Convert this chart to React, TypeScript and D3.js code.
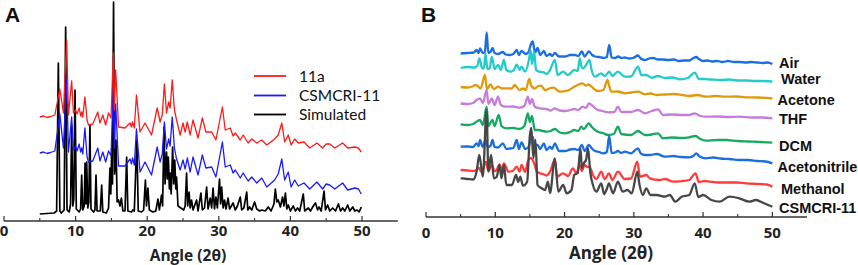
import React from 'react';
import * as d3 from 'd3';

type Pt = [number, number];

const MAJOR_TICKS = [0, 10, 20, 30, 40, 50];
const MINOR_TICKS = [5, 15, 25, 35, 45];
const X_TITLE = 'Angle (2θ)';

// Panel A (stacked intensities, arbitrary units)
const A_SIMULATED: Pt[] = [[5,0],[6,0.5],[7,1],[7.35,3],[7.59,151],[7.8,3],[8.0,1],[8.4,4],[8.61,187],[8.8,4],[9.1,2],[9.3,10],[9.45,89],[9.62,8],[9.75,15],[9.92,124],[10.1,5],[10.5,2],[10.7,5],[10.85,39],[11.0,4],[11.2,8],[11.32,51],[11.45,10],[11.55,52],[11.7,6],[11.85,12],[12.0,89],[12.15,5],[12.5,2],[12.7,4],[12.85,39],[13.0,3],[13.45,3],[13.64,29],[13.8,2],[14.3,1],[14.6,6],[14.8,46],[14.92,20],[15.04,66],[15.15,30],[15.3,212],[15.45,40],[15.64,74],[15.8,12],[16.0,14],[16.2,8],[16.4,16],[16.6,3],[16.9,3],[17.13,57],[17.3,3],[17.8,2],[18.0,4],[18.2,3],[18.55,74],[18.75,3],[19.2,2],[19.5,4],[19.75,34],[19.9,8],[20.1,26],[20.3,4],[20.8,2],[21.2,3],[21.5,15],[21.7,4],[22.0,19],[22.15,8],[22.35,87],[22.5,30],[22.7,62],[22.82,35],[22.95,57],[23.1,25],[23.22,41],[23.35,20],[23.55,67],[23.7,30],[23.85,54],[24.0,25],[24.1,37],[24.3,8],[24.7,6],[25.1,4],[25.3,8],[25.5,41],[25.65,8],[25.85,22],[26.0,6],[26.2,14],[26.4,4],[26.9,14],[27.1,3],[27.5,21],[27.7,4],[28.0,6],[28.3,27],[28.5,5],[28.8,16],[29.0,6],[29.2,26],[29.4,5],[29.6,17],[29.8,6],[30.1,35],[30.25,10],[30.4,27],[30.6,6],[30.8,14],[31.0,5],[31.3,16],[31.5,5],[32.0,11],[32.3,4],[32.6,8],[33.0,17],[33.2,4],[33.5,6],[33.9,22],[34.05,4],[34.3,7],[34.6,4],[35.0,12],[35.3,5],[35.7,3],[36.0,4],[36.5,3],[36.9,7],[37.3,3],[37.7,10],[37.9,25],[38.1,12],[38.3,14],[38.6,7],[38.9,17],[39.1,8],[39.3,21],[39.5,5],[39.7,9],[40.0,3],[40.4,8],[40.7,3],[41.0,6],[41.3,3],[41.8,20],[42.0,3],[42.5,6],[42.8,3],[43.2,8],[43.5,11],[43.8,4],[44.0,7],[44.3,3],[44.7,23],[44.9,4],[45.2,9],[45.5,3],[45.9,6],[46.3,3],[46.7,10],[47.0,3],[47.3,6],[47.6,3],[48.0,9],[48.3,3],[48.7,7],[49.0,3],[49.3,4],[49.6,2],[49.9,7]];

const A_CSMCRI: Pt[] = [[5,61],[5.5,62],[6.0,60.5],[6.5,61.5],[7.1,63],[7.8,100],[8.3,66],[8.75,135],[9.0,62],[9.45,97],[9.7,64],[10.0,68],[10.2,63],[10.5,70],[10.7,62],[10.85,66],[11.0,60],[11.3,86],[11.6,57],[11.8,52],[12.4,53],[13.1,66],[13.4,53],[13.8,62],[14.2,52],[14.6,63],[14.95,58],[15.27,128],[15.42,66],[15.6,110],[16.0,48],[16.9,48],[17.6,55],[17.8,50],[17.95,56],[18.2,49],[18.5,85],[19.0,42],[19.7,52],[20.6,39],[21.4,67],[21.8,52],[22.1,60],[22.4,92],[22.7,65],[23.0,75],[23.2,68],[23.5,97],[23.8,66],[24.1,55],[24.6,44],[25.0,54],[25.3,45],[25.6,56],[26.0,42],[26.4,57],[27.1,39],[27.7,59],[28.2,46],[29.0,47],[29.6,37],[30.5,72],[30.9,47],[31.6,49],[32.0,41],[32.3,44],[33.0,36],[33.4,41],[34.1,33],[34.6,37],[35.3,31],[36.0,36],[36.7,27],[37.8,34],[38.3,40],[38.8,55],[39.2,34],[39.7,42],[40.1,27],[40.6,34],[41.1,28],[41.9,31],[42.7,25],[43.7,32],[44.5,25],[45.0,30],[45.5,29],[46.2,25],[47.3,31],[48.0,24],[49.0,26],[49.5,25],[49.9,20]];

const A_11A: Pt[] = [[5.0,97],[5.5,98],[6.0,96.5],[6.5,97.5],[7.1,99],[7.8,125],[8.3,101],[8.75,174],[9.0,99],[9.45,133],[9.7,101],[10.0,104],[10.2,100],[10.5,106],[10.7,98],[10.85,102],[11.0,97],[11.3,117],[11.6,94],[11.8,89],[12.4,90],[13.1,102],[13.4,91],[13.8,99],[14.2,89],[14.6,101],[14.95,96],[15.27,161],[15.42,104],[15.6,144],[16.0,87],[16.9,86],[17.6,91],[17.8,87],[17.95,92],[18.2,86],[18.5,119],[19.0,82],[19.7,91],[20.6,79],[21.4,106],[21.8,92],[22.1,99],[22.4,130],[22.7,101],[23.0,112],[23.2,106],[23.5,134],[23.8,104],[24.1,94],[24.6,79],[25.0,91],[25.3,82],[25.6,92],[26.0,79],[26.4,94],[27.1,76],[27.7,96],[28.2,82],[29.0,82],[29.6,74],[30.5,107],[30.9,84],[31.6,86],[32.0,78],[32.3,81],[33.0,74],[33.4,79],[34.1,71],[34.6,75],[35.3,71],[36.0,74],[36.7,69],[37.8,75],[38.3,79],[38.8,91],[39.2,72],[39.7,79],[40.1,69],[40.6,75],[41.1,71],[41.9,72],[42.7,66],[43.7,71],[44.5,66],[45.0,70],[45.5,70],[46.2,66],[47.3,71],[48.0,66],[49.0,67],[49.5,66],[49.9,62]];

const A_NAMES = ['11a', 'CSMCRI-11', 'Simulated'];
const A_COLORS = ['#ff1a1a', '#1a1aff', '#000000'];

// Panel B (stacked intensities, arbitrary units)
const B_AIR: Pt[] = [[5,166.5],[6,167],[6.9,167.5],[7.3,170],[7.6,167],[7.8,171.5],[8.2,167],[8.5,168],[8.76,187.5],[9.0,167],[9.3,168],[9.6,172],[9.9,167],[10.4,166],[11.1,168],[11.5,165.5],[12.1,165],[12.6,166],[13.1,170],[13.4,165],[13.8,169],[14.4,166],[14.8,168],[15.1,175],[15.4,178.5],[15.65,170],[15.8,168],[16.1,172],[16.5,165],[17.0,169],[17.4,164],[17.9,166],[18.2,164],[18.6,167],[19.2,163.5],[20.1,163.5],[20.8,165],[21.5,165],[22.0,164],[22.5,168.5],[22.9,163.5],[23.5,168.5],[24.0,165],[24.4,163.5],[25.0,163],[25.6,162],[26.1,163],[26.45,175],[26.8,162.5],[27.3,162],[27.75,163.5],[28.2,162],[28.7,162.5],[29.3,161.5],[29.9,162],[30.6,164.5],[31.0,161.5],[31.6,160],[32.2,161.5],[32.8,162],[33.5,160.5],[34.2,160.5],[35.0,160],[35.8,160.5],[36.5,159],[37.2,159.5],[38.0,159.5],[38.6,162],[39.0,163],[39.4,161],[40.0,159],[40.6,159.5],[41.3,158.5],[42.0,159],[42.8,158],[43.6,159],[44.5,158],[45.3,158],[46.2,157.5],[47.0,158],[47.8,157.5],[48.6,157],[49.3,157.5],[50,156]];

const B_WATER: Pt[] = [[5,152],[6,153],[7,152.5],[7.4,154],[7.7,161.7],[8.1,152],[8.35,151.5],[8.6,166.7],[8.85,151],[9.2,152],[9.5,163.3],[9.9,151],[10.4,155],[10.8,150],[11.25,160],[11.6,150],[12.2,148.3],[12.7,150],[13.1,155.7],[13.5,150],[13.8,153.3],[14.3,148.3],[14.9,161.7],[15.1,170],[15.3,156],[15.6,168.3],[15.9,150],[16.3,148.3],[17.0,147.7],[17.4,146],[17.9,150],[18.6,160],[19.0,145],[19.8,148.3],[20.5,145],[21.4,150],[21.9,149],[22.2,161.7],[22.45,153.3],[22.7,151.7],[23.1,155],[23.6,160],[23.9,150],[24.4,143.3],[25.3,146.7],[25.8,144],[26.45,148.3],[26.9,144],[27.7,148.3],[28.7,143.3],[29.6,143.5],[30.6,153.3],[31.1,145],[31.8,145],[32.6,142.3],[33.5,144],[34.5,142],[35.5,142.5],[36.7,140.7],[37.8,142],[38.8,147.3],[39.4,141],[40.2,141],[41.2,140.5],[42.6,140],[43.8,140.5],[45.0,139.5],[46.2,139.5],[47.5,139],[48.7,139],[50,138.5]];

const B_ACETONE: Pt[] = [[5,133],[6,132.5],[6.7,133.5],[7.2,135],[7.9,131.7],[8.5,145],[8.8,131],[9.3,135.7],[9.8,131],[10.4,133.3],[11.0,131.5],[11.6,131.7],[12.4,131.5],[12.8,135],[13.5,130],[14.0,131.5],[14.4,130],[14.9,141],[15.2,134],[15.7,131.5],[16.2,134],[16.6,134.3],[17.2,130],[17.8,131.5],[18.4,132.3],[19.3,128.3],[20.5,129.5],[21.4,133.3],[21.9,135],[22.6,136.7],[23.1,134.3],[23.5,135.5],[23.9,133.3],[24.8,129],[25.6,130],[26.2,140],[26.4,135],[26.8,128.3],[27.7,128.5],[28.7,126.7],[29.6,127.5],[30.6,128.3],[31.6,125.7],[32.4,126.5],[33.3,125],[34.5,125.5],[35.7,126],[37.0,125],[38.0,124],[39.2,125],[40.4,123.3],[41.8,124],[43.3,123.3],[44.8,123.5],[46.2,122.7],[48.0,122.5],[50,121.5]];

const B_THF: Pt[] = [[5,116.5],[6,116],[6.8,117],[7.3,120],[7.8,121.7],[8.2,117],[8.76,130],[9.0,116],[9.5,121.7],[9.9,115],[10.4,123.3],[10.8,115],[11.6,113.3],[12.6,113.5],[13.5,112.3],[14.2,114],[14.7,123],[15.0,116],[15.3,121],[15.7,113.3],[16.4,111.7],[17.4,111],[18.0,109.5],[18.6,111.7],[19.3,109.5],[20.1,109],[20.8,110],[21.4,111],[22.0,110],[22.6,113.3],[23.1,112],[23.5,116.7],[23.9,115],[24.8,110],[25.5,109],[26.3,107.7],[27.2,108],[27.7,113.3],[28.2,108],[29.6,108],[30.6,110],[31.6,106.7],[32.6,109],[33.5,110.7],[34.2,105],[35.5,105.5],[37.0,105],[38.0,105],[38.8,106.7],[39.6,104],[40.4,103.3],[42.0,103.5],[43.8,103],[45.2,103.3],[47.0,102.5],[48.5,102.5],[50,101.7]];

const B_DCM: Pt[] = [[5,95.7],[6,95],[6.8,96],[7.3,98.3],[7.8,100],[8.2,95],[8.76,113.3],[9.0,94],[9.6,100],[9.9,94],[10.5,105],[10.9,94],[11.6,91.7],[12.6,92],[13.5,91],[14.2,94],[14.7,106.5],[15.0,98],[15.3,104],[15.7,90],[16.2,90],[17.4,88.3],[18.0,89],[18.6,91],[19.3,87.5],[20.1,86.7],[20.8,88],[21.4,90],[22.0,89],[22.4,93.3],[22.8,91],[23.5,96.7],[23.9,93.3],[24.8,88.3],[25.5,87],[26.3,85],[27.1,86],[27.7,93.3],[28.2,86],[29.6,85],[30.6,89],[31.6,85],[32.1,85],[33.5,86.7],[34.2,81.7],[35.5,82.5],[37.0,82],[38.0,82.7],[38.9,84],[39.6,81],[40.4,79.3],[42.0,80],[43.3,80],[45.0,79],[46.5,78.5],[48.2,78],[50,77.3]];

const B_ACETONITRILE: Pt[] = [[5,73.3],[6,73.5],[6.8,73],[7.3,76.7],[7.6,74],[7.8,80],[8.2,73],[8.6,80],[8.9,73],[9.3,74],[9.6,80],[9.9,73],[10.4,72.5],[11.1,76.7],[11.6,71],[12.1,71.5],[12.6,72],[13.1,80],[13.4,71],[13.8,77.7],[14.3,71],[14.8,73],[15.1,80],[15.4,83],[15.7,75],[16.1,75],[16.5,71],[17.0,76.7],[17.4,70],[17.9,73.3],[18.2,71],[18.6,76.7],[19.2,69],[20.1,69],[20.8,70.5],[21.4,71],[22.0,70],[22.5,75],[22.9,69],[23.5,75],[24.0,71],[24.4,69],[25.0,68],[25.6,66.7],[26.1,68],[26.45,84],[26.8,67],[27.3,67.5],[27.7,69],[28.2,67],[28.7,68.3],[29.6,66.7],[30.6,71.7],[31.0,66.7],[31.6,65],[32.3,65],[33.3,66],[34.5,63.3],[35.7,64],[36.8,63],[38.0,62.7],[38.6,64],[39.0,66.7],[39.5,63.5],[40.4,61.7],[41.5,62.5],[42.5,61.5],[43.8,61],[45.2,60],[46.5,60],[47.8,59],[49.0,58.5],[50,56.7]];

const B_METHANOL: Pt[] = [[5,50],[6,49.5],[6.8,49],[7.3,50],[7.6,52.3],[8.0,48],[8.65,58],[9.0,49],[9.5,55],[9.9,49],[10.2,50],[10.6,55.7],[10.9,50],[11.25,56.7],[11.9,48.3],[12.5,49],[13.1,53.3],[13.5,48.3],[13.8,55],[14.3,48],[14.7,58.3],[15.1,62],[15.4,60],[15.7,55],[16.0,48.3],[17.0,45.7],[17.4,44.5],[17.9,48.3],[18.6,60],[18.9,43.3],[19.8,46.7],[20.5,44],[21.2,51.7],[21.7,47],[22.2,55],[22.5,49],[22.9,55],[23.3,53],[23.6,53.3],[24.1,45],[24.6,41],[25.3,48.3],[25.8,41],[26.4,46.7],[26.9,40],[27.7,48.3],[28.7,41],[29.6,41.5],[30.5,58.3],[30.9,43.3],[31.8,45],[32.3,41.7],[33.7,40],[34.5,41],[35.7,38.3],[37.0,39],[38.0,40],[38.9,46.7],[39.4,38],[40.2,39],[41.0,38.3],[42.2,37.5],[43.3,37.5],[44.8,37.5],[46.2,36.7],[48.0,36],[49.2,35.5],[50,33.3]];

const B_CSMCRI: Pt[] = [[5,41.7],[6,41],[6.8,40.5],[7.3,48.3],[7.7,65],[8.2,43.3],[8.75,110],[9.0,48.3],[9.4,65],[9.8,41.7],[10.2,43],[10.6,55],[10.9,41.7],[11.25,55],[11.6,35],[12.4,35],[13.0,45],[13.3,38],[13.6,43.3],[14.0,34.3],[14.6,38.3],[15.0,85],[15.2,92],[15.5,62],[15.8,80],[16.1,35],[16.7,31.7],[17.2,30],[17.6,38.3],[17.9,27],[18.6,61.7],[19.1,28.3],[19.8,35],[20.3,26.7],[21.0,30],[21.4,45],[21.9,47],[22.3,71.7],[22.5,52],[22.8,57],[23.1,60],[23.4,71.7],[23.7,48.3],[24.1,35],[24.6,28.3],[25.3,36.7],[25.7,26],[26.1,31],[26.4,36.7],[27.0,26.7],[27.7,38.3],[28.4,28.3],[29.1,30],[29.7,26.7],[30.5,48.3],[30.8,36],[31.3,25],[31.8,31.7],[32.4,25],[33.3,25],[34.5,23.3],[35.2,25],[36.0,18.3],[36.9,23.3],[38.0,25],[38.8,36.7],[39.3,23],[40.0,25],[41.2,20],[42.4,18.3],[43.8,23.3],[45.2,21.7],[46.7,18.3],[47.6,20],[48.8,16.7],[50,13.3]];

const B_NAMES = ['Air', 'Water', 'Acetone', 'THF', 'DCM', 'Acetonitrile', 'Methanol', 'CSMCRI-11'];
const B_COLORS = ['#1a6ee0', '#22cccc', '#e0990c', '#c57cdc', '#17a862', '#1a6ee0', '#ff3b3b', '#474747'];
const B_SERIES = [B_AIR, B_WATER, B_ACETONE, B_THF, B_DCM, B_ACETONITRILE, B_METHANOL, B_CSMCRI];
const B_LABEL_Y = [68, 83.5, 105, 124, 151, 172, 194, 213];

const AXIS_FONT = '"Open Sans", Lato, sans-serif';
const LEGEND_FONT = 'Lato, "Open Sans", sans-serif';
const LABEL_FONT = '"Liberation Sans", Arial, sans-serif';

function Axis({ x, y, fs, labelY, title, titleX, titleY, titleFs }: any) {
  const [d0, d1] = x.domain();
  return (
    <g>
      <line x1={x(d0)} x2={x(d1)} y1={y} y2={y} stroke="#333" strokeWidth={1.3} />
      {MAJOR_TICKS.map((t) => (
        <g key={'M' + t}>
          <line x1={x(t)} x2={x(t)} y1={y} y2={y - 5} stroke="#333" strokeWidth={1.2} />
          <text x={x(t)} y={labelY} textAnchor="middle" fontFamily={AXIS_FONT} fontWeight="bold" fontSize={fs} fill="#222">{t}</text>
        </g>
      ))}
      {MINOR_TICKS.map((t) => (
        <line key={'m' + t} x1={x(t)} x2={x(t)} y1={y} y2={y - 3} stroke="#333" strokeWidth={1.1} />
      ))}
      <text x={titleX} y={titleY} textAnchor="middle" fontFamily={AXIS_FONT} fontWeight="bold" fontSize={titleFs} fill="#222">{title}</text>
    </g>
  );
}

export default function App() {
  const xA = d3.scaleLinear().domain([0, 55]).range([4, 397.8]);
  const yA = d3.scaleLinear().domain([0, 212]).range([214, 2]);
  const lineA = d3.line<Pt>().x((d) => xA(d[0])).y((d) => yA(d[1]));

  const xB = d3.scaleLinear().domain([0, 55]).range([426, 807]);
  const yB = d3.scaleLinear().domain([0, 220]).range([220, 0]);
  const lineB = d3.line<Pt>().x((d) => xB(d[0])).y((d) => yB(d[1])).curve(d3.curveMonotoneX);

  const aSeries = [A_11A, A_CSMCRI, A_SIMULATED];
  const aWidths = [1.3, 1.3, 1.7];
  const legendY = [76, 95.5, 114.5];

  return (
    <svg width={858} height={265} style={{ position: 'absolute', left: 0, top: 0, background: '#fff' }}>
      {/* Panel A */}
      <text x={5} y={22} fontFamily={LABEL_FONT} fontWeight="bold" fontSize={21} fill="#111">A</text>
      {[2, 1, 0].map((i) => (
        <path key={i} d={lineA(aSeries[i]) || ''} fill="none" stroke={A_COLORS[i]} strokeWidth={aWidths[i]} strokeLinejoin="round" />
      ))}
      {A_NAMES.map((n, i) => (
        <g key={n}>
          <line x1={254} x2={286} y1={legendY[i]} y2={legendY[i]} stroke={A_COLORS[i]} strokeWidth={1.8} />
          <text x={299} y={legendY[i] + 5.5} fontFamily={LEGEND_FONT} fontSize={15.5} fill="#111">{n}</text>
        </g>
      ))}
      <Axis x={xA} y={221} fs={15} labelY={236} title={X_TITLE} titleX={188} titleY={260.5} titleFs={15.5} />

      {/* Panel B */}
      <text x={421} y={22} fontFamily={LABEL_FONT} fontWeight="bold" fontSize={21} fill="#111">B</text>
      {B_SERIES.map((s, i) => (
        <path key={B_NAMES[i]} d={lineB(s) || ''} fill="none" stroke={B_COLORS[i]} strokeWidth={2.3} strokeLinejoin="round" />
      ))}
      {B_NAMES.map((n, i) => (
        <text key={n} x={n === 'Acetone' || n === 'Acetonitrile' ? 777.5 : n === 'Water' || n === 'Methanol' ? 781 : 779} y={B_LABEL_Y[i]} fontFamily={LABEL_FONT} fontWeight="bold" fontSize={14.5} fill="#111">{n}</text>
      ))}
      <Axis x={xB} y={217} fs={15} labelY={238} title={X_TITLE} titleX={611} titleY={259} titleFs={17} />
    </svg>
  );
}
